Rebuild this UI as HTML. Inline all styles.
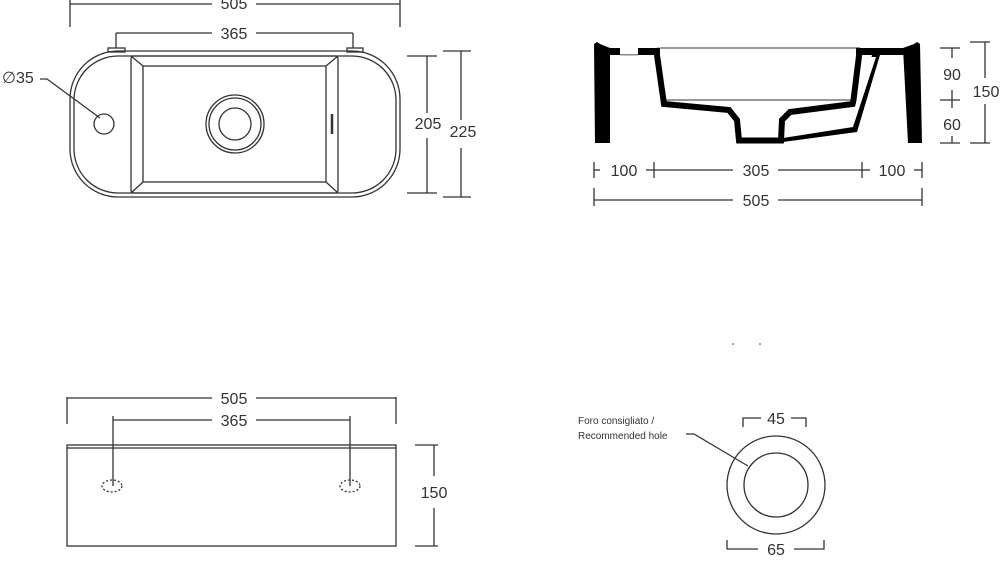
<!DOCTYPE html>
<html><head><meta charset="utf-8"><style>
html,body{margin:0;padding:0;background:#fff;width:1000px;height:564px;overflow:hidden}
svg{display:block}
text{font-family:"Liberation Sans",sans-serif;fill:#333}
</style></head><body>
<svg width="1000" height="564" viewBox="0 0 1000 564" xmlns="http://www.w3.org/2000/svg">
<g stroke="#333" stroke-width="1.3" fill="none">
<!-- TOP VIEW -->
<line x1="70" y1="0" x2="70" y2="27"/><line x1="400" y1="0" x2="400" y2="27"/>
<line x1="70" y1="4" x2="212" y2="4"/><line x1="256" y1="4" x2="400" y2="4"/>
<line x1="116" y1="33" x2="116" y2="48"/><line x1="353" y1="33" x2="353" y2="48"/>
<line x1="116" y1="33" x2="212" y2="33"/><line x1="256" y1="33" x2="353" y2="33"/>
<rect x="108" y="48" width="17" height="4"/><rect x="347" y="48" width="16" height="4"/>
<rect x="70" y="51" width="330" height="146" rx="48"/>
<rect x="74" y="56" width="322" height="137" rx="44"/>
<rect x="131" y="56" width="207" height="137" rx="3"/>
<rect x="143" y="66" width="183" height="116"/>
<line x1="131" y1="56" x2="143" y2="66"/><line x1="338" y1="56" x2="326" y2="66"/>
<line x1="131" y1="193" x2="143" y2="182"/><line x1="338" y1="193" x2="326" y2="182"/>
<circle cx="235" cy="124" r="29"/><circle cx="235" cy="124" r="26"/><circle cx="235" cy="124" r="16"/>
<line x1="332" y1="114" x2="332" y2="134" stroke-width="2.5"/>
<circle cx="104" cy="124" r="10"/>
<polyline points="40,79 47,79 100,118"/>
<line x1="407" y1="56" x2="437" y2="56"/><line x1="407" y1="193" x2="437" y2="193"/>
<line x1="427" y1="56" x2="427" y2="113"/><line x1="427" y1="138" x2="427" y2="193"/>
<line x1="443" y1="51" x2="471" y2="51"/><line x1="443" y1="197" x2="471" y2="197"/>
<line x1="461" y1="51" x2="461" y2="120"/><line x1="461" y1="148" x2="461" y2="197"/>

<!-- SECTION dims -->
<line x1="594" y1="162" x2="594" y2="178"/><line x1="594" y1="170" x2="600" y2="170"/>
<line x1="646" y1="170" x2="654" y2="170"/><line x1="654" y1="162" x2="654" y2="178"/>
<line x1="654" y1="170" x2="733" y2="170"/><line x1="778" y1="170" x2="862" y2="170"/>
<line x1="862" y1="162" x2="862" y2="178"/><line x1="862" y1="170" x2="870" y2="170"/>
<line x1="914" y1="170" x2="922" y2="170"/><line x1="922" y1="162" x2="922" y2="178"/>
<line x1="594" y1="188" x2="594" y2="206"/><line x1="922" y1="188" x2="922" y2="206"/>
<line x1="594" y1="200" x2="733" y2="200"/><line x1="778" y1="200" x2="922" y2="200"/>
<line x1="940" y1="48" x2="960" y2="48"/><line x1="952" y1="48" x2="952" y2="58"/>
<line x1="940" y1="100" x2="960" y2="100"/><line x1="952" y1="90" x2="952" y2="108"/>
<line x1="940" y1="143" x2="960" y2="143"/><line x1="952" y1="136" x2="952" y2="143"/>
<line x1="970" y1="42" x2="990" y2="42"/><line x1="970" y1="143" x2="990" y2="143"/>
<line x1="985" y1="42" x2="985" y2="78"/><line x1="985" y1="104" x2="985" y2="143"/>
<line x1="660" y1="48" x2="860" y2="48" stroke-width="1"/>
<line x1="666" y1="100" x2="852" y2="100" stroke-width="1"/>
<polyline points="878,56 856,130 783,140" stroke-width="1.3"/>

<!-- FRONT VIEW -->
<line x1="67" y1="397" x2="67" y2="424"/><line x1="396" y1="397" x2="396" y2="424"/>
<line x1="67" y1="398" x2="212" y2="398"/><line x1="256" y1="398" x2="396" y2="398"/>
<line x1="113" y1="420" x2="212" y2="420"/><line x1="256" y1="420" x2="350" y2="420"/>
<line x1="113" y1="416" x2="113" y2="486"/><line x1="350" y1="416" x2="350" y2="486"/>
<rect x="67" y="445" width="329" height="101"/><line x1="67" y1="448" x2="396" y2="448"/>
<ellipse cx="112" cy="486" rx="10" ry="6" stroke-dasharray="2,2"/>
<ellipse cx="350" cy="486" rx="10" ry="6" stroke-dasharray="2,2"/>
<line x1="415" y1="445" x2="438" y2="445"/><line x1="415" y1="546" x2="438" y2="546"/>
<line x1="434" y1="445" x2="434" y2="476"/><line x1="434" y1="508" x2="434" y2="546"/>

<!-- HOLE -->
<circle cx="776" cy="485" r="49"/><circle cx="776" cy="485" r="32"/>
<polyline points="743,427 743,418 761,418"/><polyline points="791,418 806,418 806,427"/>
<polyline points="727,540 727,549 758,549"/><polyline points="794,549 824,549 824,540"/>
<polyline points="686,434 694,434 748,466"/>
</g>
<!-- section solids -->
<g fill="#000">
<polygon points="594,44 597,42 600,44 610,48 610,143 595,143"/>
<rect x="608" y="48" width="12" height="7"/><rect x="638" y="48" width="22" height="7"/>
<polygon points="920,44 917,42 914,44 903,48 908,143 922,143"/>
<rect x="856" y="48" width="50" height="7"/>
</g>
<rect x="620" y="54" width="18" height="1.5" fill="#888"/>
<polyline points="656,48 664,104 729,110 737,120 739,140.5 781,140.5 782,120 790,112 853,104 860,48" fill="none" stroke="#000" stroke-width="6" stroke-linejoin="miter"/>
<polygon points="872,55 880,55 857,132 783,142 783,138 853,127" fill="#000"/>
<polygon points="876,57 854,124 786,134 786,130 851,122 868,57" fill="#fff"/>
<g font-size="16">
<text x="234" y="9" text-anchor="middle">505</text>
<text x="234" y="39" text-anchor="middle">365</text>
<text x="2" y="83">∅35</text>
<text x="428" y="129" text-anchor="middle">205</text>
<text x="463" y="137" text-anchor="middle">225</text>
<text x="624" y="176" text-anchor="middle">100</text>
<text x="756" y="176" text-anchor="middle">305</text>
<text x="892" y="176" text-anchor="middle">100</text>
<text x="756" y="206" text-anchor="middle">505</text>
<text x="952" y="80" text-anchor="middle">90</text>
<text x="952" y="130" text-anchor="middle">60</text>
<text x="986" y="97" text-anchor="middle">150</text>
<text x="234" y="404" text-anchor="middle">505</text>
<text x="234" y="426" text-anchor="middle">365</text>
<text x="434" y="498" text-anchor="middle">150</text>
<text x="776" y="424" text-anchor="middle">45</text>
<text x="776" y="555" text-anchor="middle">65</text>
</g>
<text x="578" y="424" font-size="10">Foro consigliato /</text>
<text x="578" y="439" font-size="10">Recommended hole</text>
<circle cx="733" cy="344" r="0.8" fill="#333"/><circle cx="760" cy="344" r="0.8" fill="#333"/>
</svg>
</body></html>
